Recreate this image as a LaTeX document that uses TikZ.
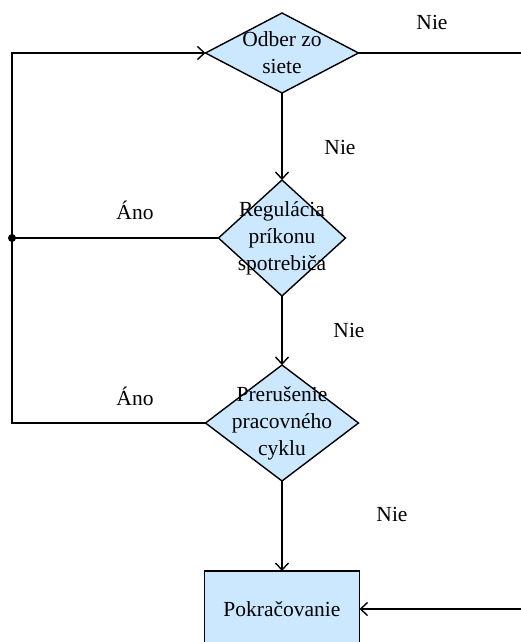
\documentclass[tikz,border=0pt]{standalone}
\usepackage{fontspec}
\setmainfont{Liberation Serif}
\usepackage{xcolor}
\usepackage{tikz}
\usetikzlibrary{positioning,shapes.geometric,arrows.meta}
\definecolor{boxFill}{RGB}{204,232,255}
\tikzset{
    decision/.style={
        diamond,
        draw,
        fill=boxFill,
        line width=1.4pt,
        inner sep=0pt,
        outer sep=0pt
    },
    stepbox/.style={
        rectangle,
        draw,
        fill=boxFill,
        line width=1.4pt,
        minimum width=155pt,
        minimum height=76pt,
        outer sep=0pt,
        font=\rmfamily\fontsize{21.5}{26}\selectfont
    },
    inside/.style={
        align=center,
        font=\rmfamily\fontsize{21.5}{27}\selectfont
    },
    answer/.style={font=\rmfamily\fontsize{21.5}{24}\selectfont},
    ptr/.style={
        -{Straight Barb[length=7pt,width=13pt]},
        line width=1.4pt
    },
    wire/.style={line width=1.4pt}
}

\begin{document}
\begin{tikzpicture}[x=1pt, y=1pt]
    \useasboundingbox (0,0) rectangle (520,-642);

    % Rozhodovacie bloky
    \node[decision, minimum width=153pt, minimum height=80pt,
          label={[inside]center:Odber zo\\siete}] (odber) at (282,-53) {};
    \node[decision, minimum width=127pt, minimum height=116pt, below=87pt of odber,
          label={[inside]center:Regulácia\\príkonu\\spotrebiča}] (regulacia) {};
    \node[decision, minimum width=153pt, minimum height=116pt, below=69pt of regulacia,
          label={[inside]center:Prerušenie\\pracovného\\cyklu}] (prerusenie) {};
    \node[stepbox, below=90pt of prerusenie] (pokracovanie) {Pokračovanie};

    % Okraje
    \coordinate (lavo) at (12,0);
    \coordinate (vpravo) at (526,0);

    % Hlavna vetva
    \draw[ptr] (odber) -- (regulacia);
    \draw[ptr] (regulacia) -- (prerusenie);
    \draw[ptr] (prerusenie) -- (pokracovanie);

    % Vetvy Nie vpravo
    \draw[wire] (odber.east) -- (odber.east -| vpravo);
    \draw[ptr] (pokracovanie.east -| vpravo) -- (pokracovanie.east);

    % Spatna vetva Ano
    \draw[ptr] (prerusenie.west) -- (prerusenie.west -| lavo) -- (odber.west -| lavo) -- (odber.west);
    \draw[wire] (regulacia.west) -- (regulacia.west -| lavo);
    \fill (regulacia.west -| lavo) circle (4pt);

    % Popisy
    \node[answer] (nieA) at (432,-22) {Nie};
    \node[answer] (nieB) at (340,-147) {Nie};
    \node[answer] (anoA) at (135,-210) {Áno};
    \node[answer] (nieC) at (349,-330) {Nie};
    \node[answer] (anoB) at (135,-396) {Áno};
    \node[answer] (nieD) at (392,-514) {Nie};
\end{tikzpicture}
\end{document}
